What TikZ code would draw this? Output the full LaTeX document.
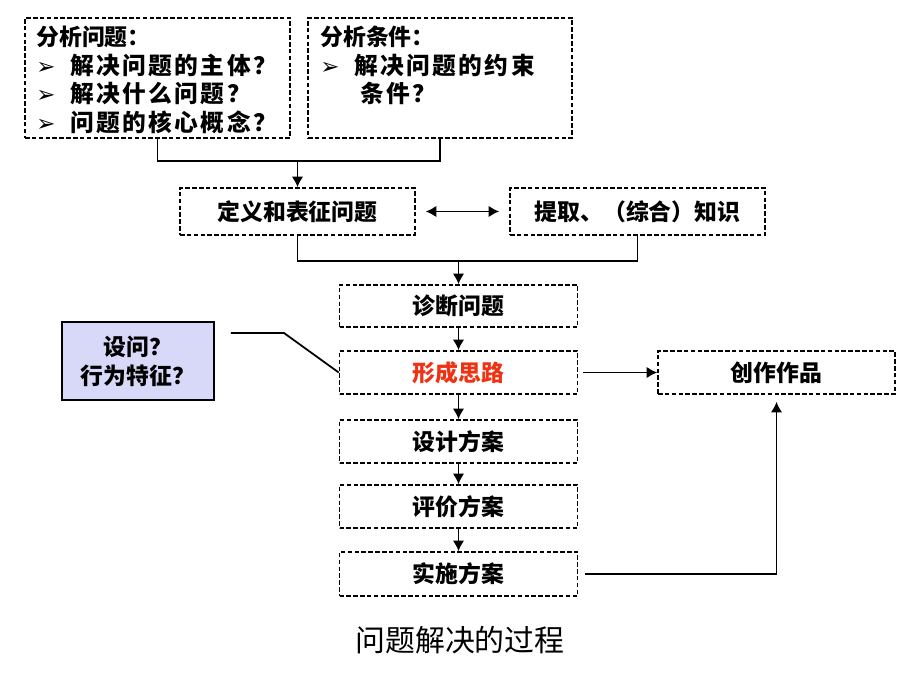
\documentclass[tikz,border=0pt]{standalone}
\usepackage{fontspec}
\setmainfont{Noto Sans CJK SC}
\newfontfamily\symfont{DejaVu Sans}
\usetikzlibrary{calc,arrows.meta}
\definecolor{lavender}{RGB}{216,216,248}
\definecolor{ideared}{RGB}{240,50,20}
\tikzset{
	dbox/.style={draw, line width=0.9pt, dash pattern=on 2.6pt off 1.3pt, minimum height=0.86cm, font=\fontsize{13}{16}\selectfont\bfseries},
	conn/.style={line width=1pt},
	tipped/.style={conn, -{Latex[length=6pt,width=6.5pt]}},
	listtxt/.style={anchor=north west, align=left, inner sep=0pt, font=\fontsize{13}{16.2}\selectfont\bfseries},
}
\def\tip{{\symfont ➢}}
\def\spread{\fontsize{13.5}{16.2}\selectfont\addfontfeatures{LetterSpace=10}}

\begin{document}
\begin{tikzpicture}
	\useasboundingbox (0,0) rectangle (18.4,13.8);
	
	\node[dbox, minimum width=5.3cm, minimum height=2.4cm] (prob) at (3.15,12.24) {};
	\node[dbox, minimum width=5.28cm, minimum height=2.4cm] (cond) at (8.8,12.24) {};
	\node[listtxt] (probtxt) at (0.72,13.28) {分析问题：\\ \tip\hspace{0.3cm}{\spread 解决问题的主体？}\\ \tip\hspace{0.3cm}{\spread 解决什么问题？}\\ \tip\hspace{0.3cm}{\spread 问题的核心概念？}};
	\node[listtxt] (condtxt) at (6.4,13.28) {分析条件：\\ \tip\hspace{0.3cm}{\spread 解决问题的约束}\\ \hspace*{0.8cm}{\spread 条件？}};
	
	\node[dbox, minimum width=4.7cm, minimum height=0.94cm] (define) at (5.95,9.57) {定义和表征问题};
	\node[dbox, minimum width=5.1cm, minimum height=0.94cm] (know) at (12.75,9.57) {提取、（综合）知识};
	
	\node[dbox, minimum width=4.76cm, minimum height=0.84cm] (diag) at (9.17,7.68) {诊断问题};
	\node[dbox, minimum width=4.76cm, text=ideared] (idea) at (9.17,6.35) {形成思路};
	\node[dbox, minimum width=4.74cm] (work) at (15.53,6.35) {创作作品};
	\node[draw, line width=1.1pt, fill=lavender, minimum width=3.04cm, minimum height=1.56cm, align=center, font=\fontsize{13}{16.5}\selectfont\bfseries] (ask) at (2.76,6.58) {设问？\\行为特征？};
	
	\node[dbox, minimum width=4.76cm] (plan) at (9.17,4.97) {设计方案};
	\node[dbox, minimum width=4.76cm] (eval) at (9.17,3.67) {评价方案};
	\node[dbox, minimum width=4.76cm, minimum height=0.88cm] (impl) at (9.17,2.32) {实施方案};
	
	\node[font=\fontsize{17}{20}\selectfont] (title) at (9.2,1.0) {问题解决的过程};
	
	\draw[conn] (prob.south) -- ++(0,-0.44) coordinate (pj) -| (cond.south);
	\draw[tipped] (pj -| define.north) -- (define.north);
	\draw[conn, {Latex[length=6pt,width=6.5pt]}-{Latex[length=6pt,width=6.5pt]}] ([xshift=0.2cm]define.east) -- ([xshift=-0.2cm]know.west);
	\draw[conn] (define.south) -- ++(0,-0.5) coordinate (cj) -| (know.south);
	\draw[tipped] (cj -| diag.north) -- (diag.north);
	\draw[tipped] (diag.south) -- (idea.north);
	\draw[tipped] ([xshift=0.1cm]idea.east) -- (work.west);
	\draw[conn] ([shift={(0.32,0.56)}]ask.east) -- ++(1.06,0) -- (idea.west);
	\draw[tipped] (idea.south) -- (plan.north);
	\draw[tipped] (plan.south) -- (eval.north);
	\draw[tipped] (eval.south) -- (impl.north);
	\draw[tipped] ([xshift=0.14cm]impl.east) -| ([yshift=-0.14cm]work.south);
\end{tikzpicture}
\end{document}
